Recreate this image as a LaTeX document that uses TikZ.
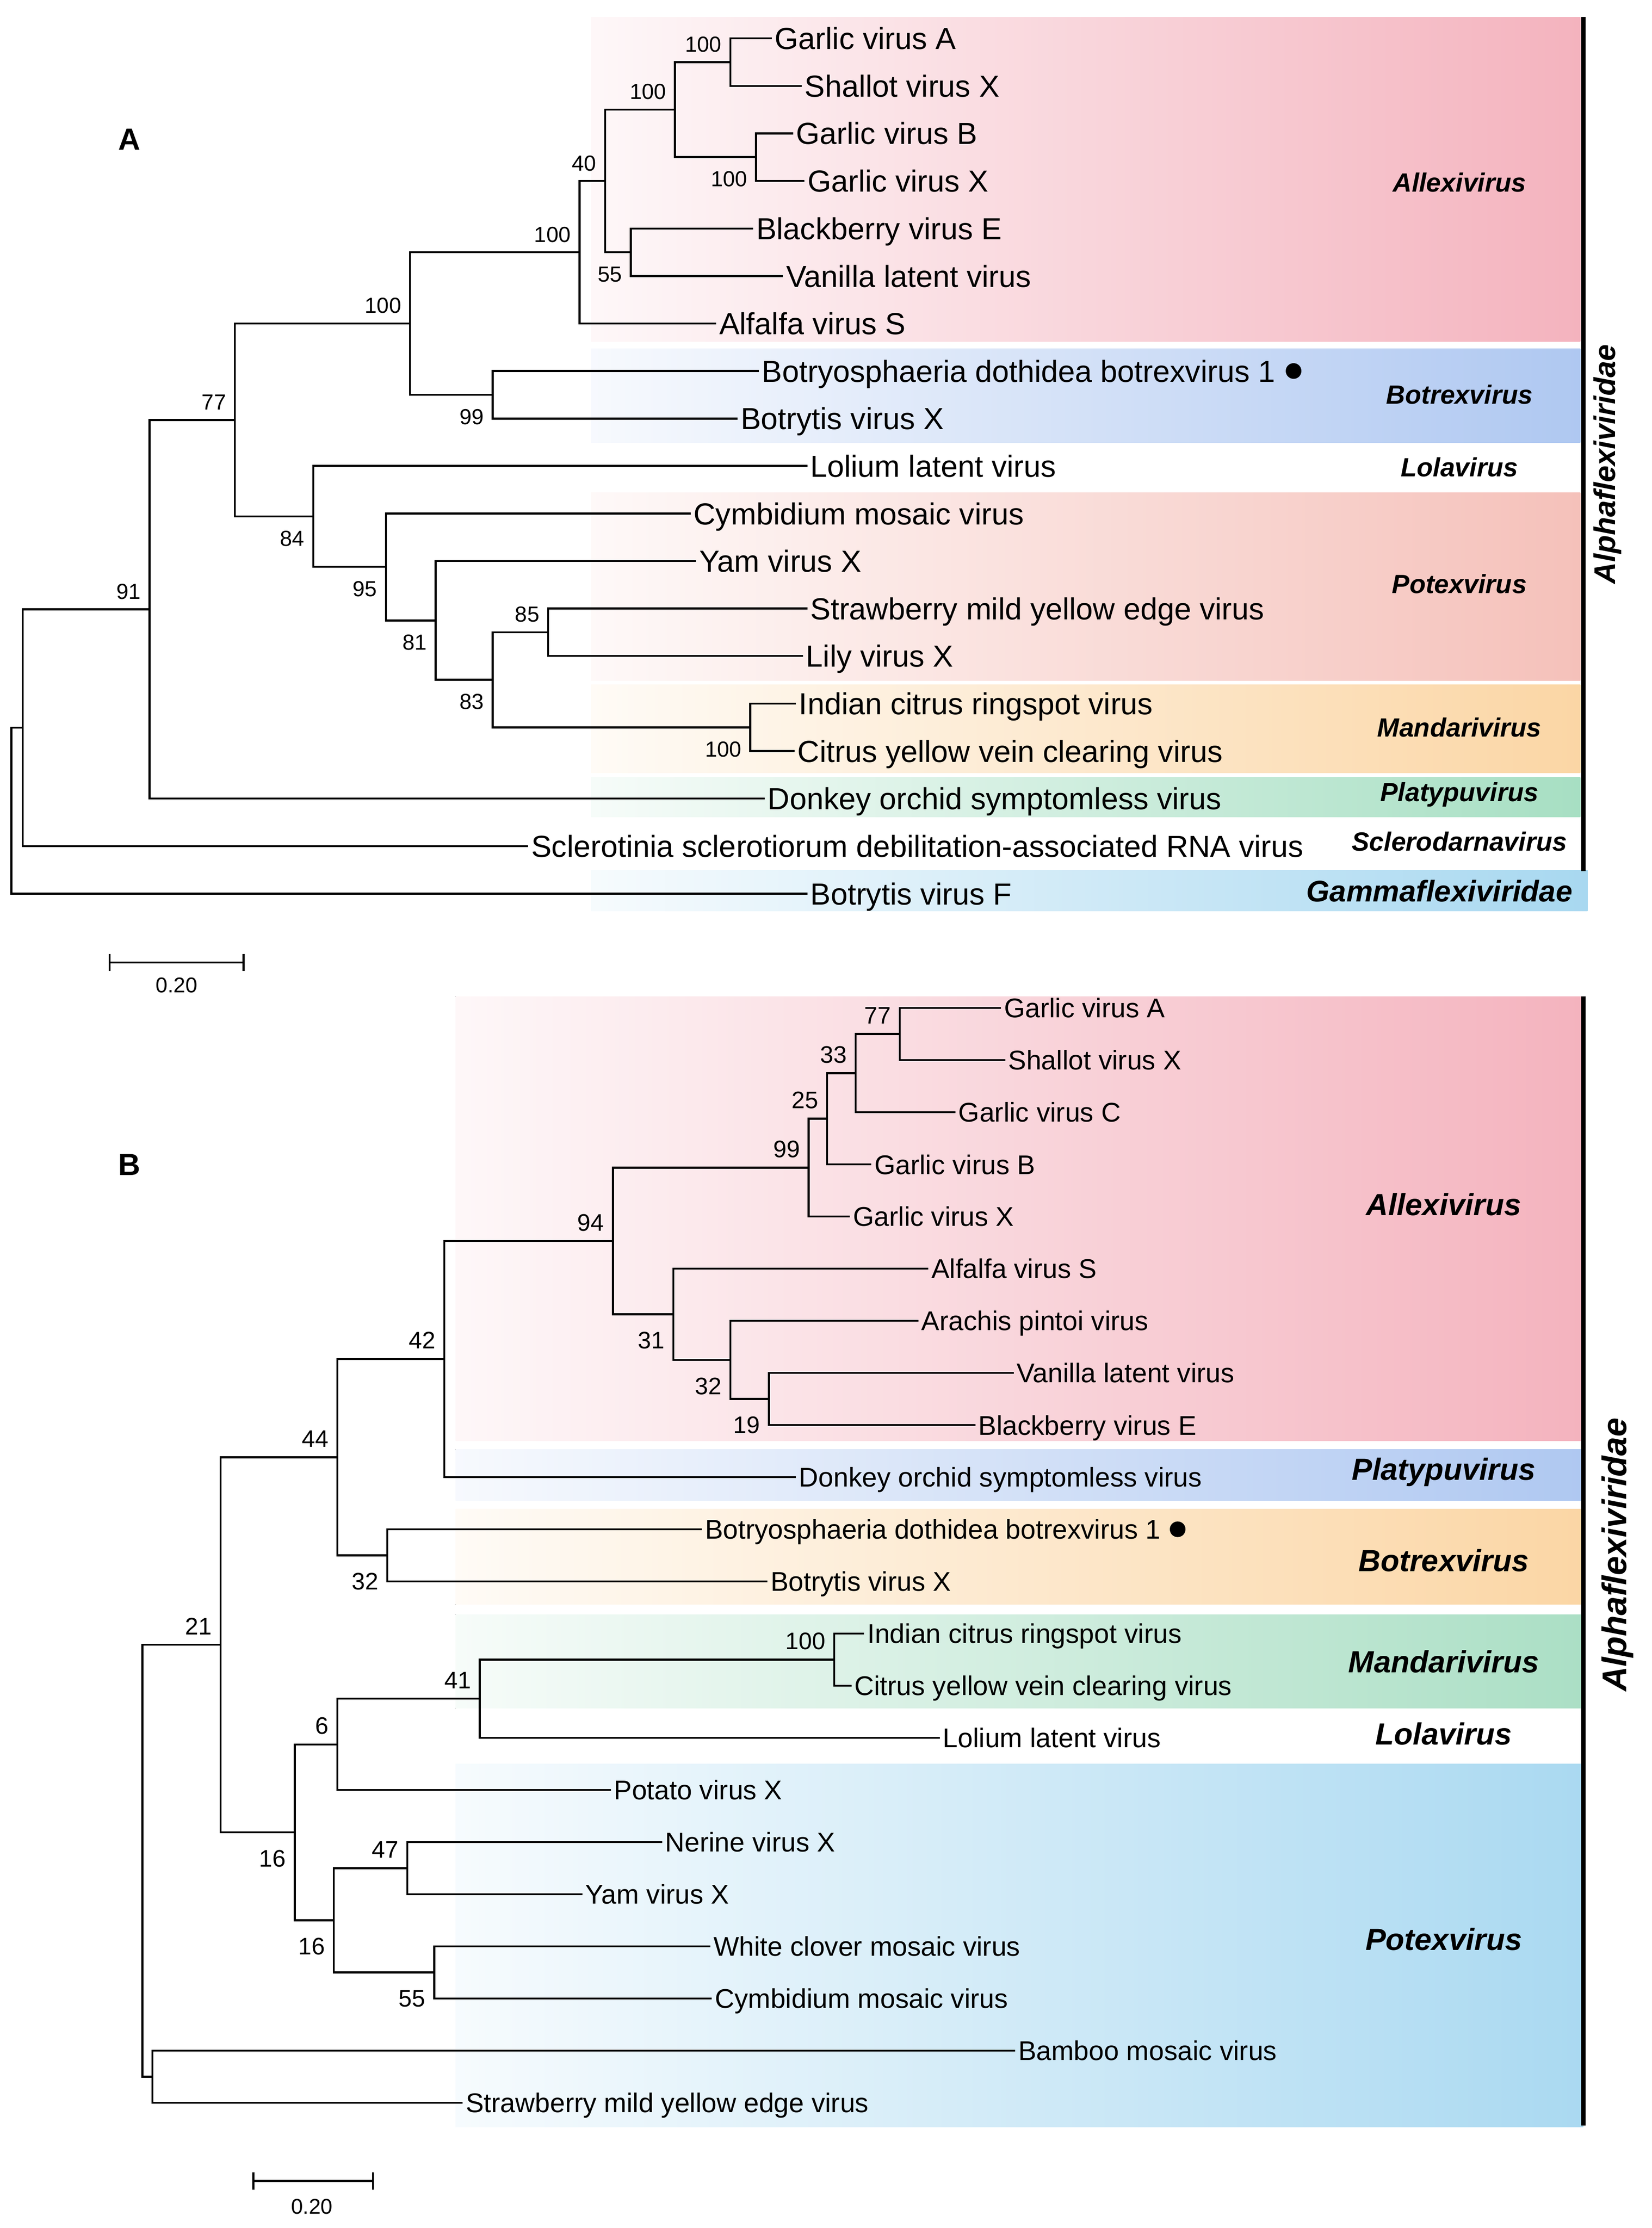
\documentclass[tikz,border=0pt]{standalone}
\usepackage{fontspec}
\setmainfont{Liberation Sans}
\usetikzlibrary{positioning}
\definecolor{allexpink}{HTML}{F4B3BE}
\definecolor{botrexblue}{HTML}{AFC8F1}
\definecolor{potexsalmon}{HTML}{F5C1BA}
\definecolor{mandorange}{HTML}{FBD6A5}
\definecolor{platygreen}{HTML}{A7DFC3}
\definecolor{gammasky}{HTML}{A8D8F0}
\definecolor{mandgreen}{HTML}{ABDFC5}
\definecolor{potexsky}{HTML}{AAD9F1}

\begin{document}
\begin{tikzpicture}[x=1pt,y=-1pt,
    branch/.style={line width=1.4pt},
    famline/.style={line width=3pt},
    leafA/.style={anchor=west,inner xsep=2pt,inner ysep=0pt,text height=15.4pt,text depth=0pt,font=\fontsize{21.4}{24}\selectfont},
    leafB/.style={anchor=west,inner xsep=2pt,inner ysep=0pt,text height=13.7pt,text depth=0pt,font=\fontsize{19}{22}\selectfont},
    bsupA/.style={anchor=south east,inner sep=0pt,xshift=-6pt,yshift=7pt,text height=11pt,text depth=0pt,font=\fontsize{15.3}{17}\selectfont},
    bsdnA/.style={anchor=north east,inner sep=0pt,xshift=-6pt,yshift=-9.5pt,text height=11pt,text depth=0pt,font=\fontsize{15.3}{17}\selectfont},
    bsupB/.style={anchor=south east,inner sep=0pt,xshift=-6pt,yshift=7pt,text height=12pt,text depth=0pt,font=\fontsize{16.8}{18}\selectfont},
    bsdnB/.style={anchor=north east,inner sep=0pt,xshift=-6pt,yshift=-12pt,text height=12pt,text depth=0pt,font=\fontsize{16.8}{18}\selectfont},
    genusA/.style={font=\fontsize{18.5}{20}\selectfont\bfseries\itshape},
    genusB/.style={font=\fontsize{21.5}{24}\selectfont\bfseries\itshape},
    panel/.style={font=\fontsize{21.5}{24}\selectfont\bfseries},
    scalelab/.style={font=\fontsize{15}{17}\selectfont},
    dotmark/.style={circle,fill=black,inner sep=0pt,minimum size=11pt}]
\useasboundingbox (0,0) rectangle (1160,1565);

% ---------------- panel A ----------------
\fill[left color=allexpink!10,right color=allexpink] (415,12) rectangle (1110,240);
\fill[left color=botrexblue!10,right color=botrexblue] (415,245) rectangle (1110,311);
\fill[left color=potexsalmon!10,right color=potexsalmon] (415,346) rectangle (1110,478);
\fill[left color=mandorange!10,right color=mandorange] (415,481) rectangle (1110,543);
\fill[left color=platygreen!10,right color=platygreen] (415,546) rectangle (1110,574);
\fill[left color=gammasky!10,right color=gammasky] (415,611) rectangle (1115,640);

\node[panel] (labA) at (91,98) {A};

\node[leafA] (gvaA) at (542,27) {Garlic virus A};
\node[leafA] (svxA) at (563,60.4) {Shallot virus X};
\node[leafA] (gvbA) at (557,93.7) {Garlic virus B};
\node[leafA] (gvxA) at (565,127.1) {Garlic virus X};
\node[leafA] (bveA) at (529,160.5) {Blackberry virus E};
\node[leafA] (vlvA) at (550,193.9) {Vanilla latent virus};
\node[leafA] (avsA) at (503,227.2) {Alfalfa virus S};
\node[leafA] (bdbA) at (533,260.6) {Botryosphaeria dothidea botrexvirus 1};
\node[dotmark, right=5pt of bdbA] (dotA) {};
\node[leafA] (bvxA) at (518,294) {Botrytis virus X};
\node[leafA] (llvA) at (567,327.3) {Lolium latent virus};
\node[leafA] (cmvA) at (485,360.7) {Cymbidium mosaic virus};
\node[leafA] (yvxA) at (489,394.1) {Yam virus X};
\node[leafA] (smyevA) at (567,427.4) {Strawberry mild yellow edge virus};
\node[leafA] (lvxA) at (564,460.8) {Lily virus X};
\node[leafA] (icrvA) at (559,494.2) {Indian citrus ringspot virus};
\node[leafA] (cyvcvA) at (558,527.6) {Citrus yellow vein clearing virus};
\node[leafA] (dosvA) at (537,560.9) {Donkey orchid symptomless virus};
\node[leafA] (ssdvA) at (371,594.3) {Sclerotinia sclerotiorum debilitation-associated RNA virus};
\node[leafA] (bvfA) at (567,627.7) {Botrytis virus F};

\coordinate (gvasvxA) at (513,43.7);
\coordinate (gvbgvxA) at (531,110.4);
\coordinate (garlicA) at (474,77);
\coordinate (bvevlvA) at (443,177.2);
\coordinate (n40A) at (425,127.1);
\coordinate (allexA) at (407,177.2);
\coordinate (botrexA) at (346,277.3);
\coordinate (n100A) at (288,227.2);
\coordinate (smlvA) at (385,444.1);
\coordinate (mandA) at (527,510.9);
\coordinate (n83A) at (346,477.5);
\coordinate (n81A) at (306,435.8);
\coordinate (n95A) at (271,398.2);
\coordinate (n84A) at (220,362.8);
\coordinate (n77A) at (165,295);
\coordinate (n91A) at (105,428);
\coordinate (n16A) at (16,511.1);
\coordinate (rootA) at (8,569.4);

\draw[branch] (gvasvxA) |- (gvaA.west) (gvasvxA) |- (svxA.west);
\draw[branch] (gvbgvxA) |- (gvbA.west) (gvbgvxA) |- (gvxA.west);
\draw[branch] (garlicA) |- (gvasvxA) (garlicA) |- (gvbgvxA);
\draw[branch] (bvevlvA) |- (bveA.west) (bvevlvA) |- (vlvA.west);
\draw[branch] (n40A) |- (garlicA) (n40A) |- (bvevlvA);
\draw[branch] (allexA) |- (n40A) (allexA) |- (avsA.west);
\draw[branch] (botrexA) |- (bdbA.west) (botrexA) |- (bvxA.west);
\draw[branch] (n100A) |- (allexA) (n100A) |- (botrexA);
\draw[branch] (smlvA) |- (smyevA.west) (smlvA) |- (lvxA.west);
\draw[branch] (mandA) |- (icrvA.west) (mandA) |- (cyvcvA.west);
\draw[branch] (n83A) |- (smlvA) (n83A) |- (mandA);
\draw[branch] (n81A) |- (yvxA.west) (n81A) |- (n83A);
\draw[branch] (n95A) |- (cmvA.west) (n95A) |- (n81A);
\draw[branch] (n84A) |- (llvA.west) (n84A) |- (n95A);
\draw[branch] (n77A) |- (n100A) (n77A) |- (n84A);
\draw[branch] (n91A) |- (n77A) (n91A) |- (dosvA.west);
\draw[branch] (n16A) |- (n91A) (n16A) |- (ssdvA.west);
\draw[branch] (rootA) |- (n16A) (rootA) |- (bvfA.west);

\node[bsupA] (bs1A) at (gvasvxA) {100};
\node[bsdnA] (bs2A) at (gvbgvxA) {100};
\node[bsupA] (bs3A) at (garlicA) {100};
\node[bsdnA] (bs4A) at (bvevlvA) {55};
\node[bsupA] (bs5A) at (n40A) {40};
\node[bsupA] (bs6A) at (allexA) {100};
\node[bsdnA] (bs7A) at (botrexA) {99};
\node[bsupA] (bs8A) at (n100A) {100};
\node[bsupA] (bs9A) at (n77A) {77};
\node[bsdnA] (bs10A) at (n84A) {84};
\node[bsdnA] (bs11A) at (n95A) {95};
\node[bsdnA] (bs12A) at (n81A) {81};
\node[bsupA] (bs13A) at (smlvA) {85};
\node[bsdnA] (bs14A) at (n83A) {83};
\node[bsdnA] (bs15A) at (mandA) {100};
\node[bsupA] (bs16A) at (n91A) {91};

\node[genusA] (allexLabA) at (1025,128) {Allexivirus};
\node[genusA] (botrexLabA) at (1025,277) {Botrexvirus};
\node[genusA] (lolaLabA) at (1025,328) {Lolavirus};
\node[genusA] (potexLabA) at (1025,410) {Potexvirus};
\node[genusA] (mandLabA) at (1025,511) {Mandarivirus};
\node[genusA] (platyLabA) at (1025,558) {Platypuvirus};
\node[genusA] (scleroLabA) at (1025,591) {Sclerodarnavirus};
\node[genusA, font=\fontsize{21}{24}\selectfont\bfseries\itshape] (gammaLabA) at (1011,626) {Gammaflexiviridae};

\coordinate (barA1) at (1112,12);
\coordinate (barA2) at (1112,612);
\draw[famline] (barA1) -- (barA2);
\node[genusA, font=\fontsize{21}{24}\selectfont\bfseries\itshape, rotate=90] (famA) at (1129,326) {Alphaflexiviridae};

\coordinate (scA1) at (77,676);
\coordinate (scA2) at (171,676);
\draw[branch] (scA1) -- (scA2);
\draw[branch] ([yshift=6pt]scA1) -- ([yshift=-6pt]scA1);
\draw[branch] ([yshift=6pt]scA2) -- ([yshift=-6pt]scA2);
\node[scalelab] (scLabA) at (124,692) {0.20};

% ---------------- panel B ----------------
\fill[left color=allexpink!10,right color=allexpink] (320,700) rectangle (1112,1012);
\fill[left color=botrexblue!10,right color=botrexblue] (320,1018) rectangle (1112,1054);
\fill[left color=mandorange!10,right color=mandorange] (320,1060) rectangle (1112,1127);
\fill[left color=mandgreen!10,right color=mandgreen] (320,1134) rectangle (1112,1200);
\fill[left color=potexsky!10,right color=potexsky] (320,1239) rectangle (1112,1494);

\node[panel] (labB) at (91,818) {B};

\node[leafB] (gvaB) at (703,708) {Garlic virus A};
\node[leafB] (svxB) at (706,744.6) {Shallot virus X};
\node[leafB] (gvcB) at (671,781.2) {Garlic virus C};
\node[leafB] (gvbB) at (612,817.9) {Garlic virus B};
\node[leafB] (gvxB) at (597,854.5) {Garlic virus X};
\node[leafB] (avsB) at (652,891.1) {Alfalfa virus S};
\node[leafB] (apvB) at (645,927.7) {Arachis pintoi virus};
\node[leafB] (vlvB) at (712,964.3) {Vanilla latent virus};
\node[leafB] (bveB) at (685,1001) {Blackberry virus E};
\node[leafB] (dosvB) at (559,1037.6) {Donkey orchid symptomless virus};
\node[leafB] (bdbB) at (493,1074.2) {Botryosphaeria dothidea botrexvirus 1};
\node[dotmark, right=4pt of bdbB] (dotB) {};
\node[leafB] (bvxB) at (539,1110.8) {Botrytis virus X};
\node[leafB] (icrvB) at (607,1147.4) {Indian citrus ringspot virus};
\node[leafB] (cyvcvB) at (598,1184.1) {Citrus yellow vein clearing virus};
\node[leafB] (llvB) at (660,1220.7) {Lolium latent virus};
\node[leafB] (pvxB) at (429,1257.3) {Potato virus X};
\node[leafB] (nvxB) at (465,1293.9) {Nerine virus X};
\node[leafB] (yvxB) at (409,1330.5) {Yam virus X};
\node[leafB] (wcmvB) at (499,1367.2) {White clover mosaic virus};
\node[leafB] (cmvB) at (500,1403.8) {Cymbidium mosaic virus};
\node[leafB] (bmvB) at (713,1440.4) {Bamboo mosaic virus};
\node[leafB] (smyevB) at (325,1477) {Strawberry mild yellow edge virus};

\coordinate (gvasvxB) at (632,726.3);
\coordinate (n33B) at (601,753.8);
\coordinate (n25B) at (581,785.8);
\coordinate (n99B) at (568,820.2);
\coordinate (vlvbveB) at (540,982.7);
\coordinate (n32B) at (513,955.2);
\coordinate (n31B) at (473,923.2);
\coordinate (allexB) at (430.5,871.7);
\coordinate (n42B) at (312,954.6);
\coordinate (botrexB) at (272,1092.5);
\coordinate (n44B) at (237,1023.6);
\coordinate (mandB) at (586,1165.8);
\coordinate (n41B) at (337,1193.2);
\coordinate (n6B) at (237,1225.3);
\coordinate (nvxyvxB) at (286,1312.2);
\coordinate (wcmvcmvB) at (305,1385.5);
\coordinate (n16bB) at (234.5,1348.9);
\coordinate (n16aB) at (207,1287.1);
\coordinate (n21B) at (155,1155.3);
\coordinate (bambooB) at (107,1458.7);
\coordinate (rootB) at (100,1307);

\draw[branch] (gvasvxB) |- (gvaB.west) (gvasvxB) |- (svxB.west);
\draw[branch] (n33B) |- (gvasvxB) (n33B) |- (gvcB.west);
\draw[branch] (n25B) |- (n33B) (n25B) |- (gvbB.west);
\draw[branch] (n99B) |- (n25B) (n99B) |- (gvxB.west);
\draw[branch] (vlvbveB) |- (vlvB.west) (vlvbveB) |- (bveB.west);
\draw[branch] (n32B) |- (apvB.west) (n32B) |- (vlvbveB);
\draw[branch] (n31B) |- (avsB.west) (n31B) |- (n32B);
\draw[branch] (allexB) |- (n99B) (allexB) |- (n31B);
\draw[branch] (n42B) |- (allexB) (n42B) |- (dosvB.west);
\draw[branch] (botrexB) |- (bdbB.west) (botrexB) |- (bvxB.west);
\draw[branch] (n44B) |- (n42B) (n44B) |- (botrexB);
\draw[branch] (mandB) |- (icrvB.west) (mandB) |- (cyvcvB.west);
\draw[branch] (n41B) |- (mandB) (n41B) |- (llvB.west);
\draw[branch] (n6B) |- (n41B) (n6B) |- (pvxB.west);
\draw[branch] (nvxyvxB) |- (nvxB.west) (nvxyvxB) |- (yvxB.west);
\draw[branch] (wcmvcmvB) |- (wcmvB.west) (wcmvcmvB) |- (cmvB.west);
\draw[branch] (n16bB) |- (nvxyvxB) (n16bB) |- (wcmvcmvB);
\draw[branch] (n16aB) |- (n6B) (n16aB) |- (n16bB);
\draw[branch] (n21B) |- (n44B) (n21B) |- (n16aB);
\draw[branch] (bambooB) |- (bmvB.west) (bambooB) |- (smyevB.west);
\draw[branch] (rootB) |- (n21B) (rootB) |- (bambooB);

\node[bsupB] (bs1B) at (gvasvxB) {77};
\node[bsupB] (bs2B) at (n33B) {33};
\node[bsupB] (bs3B) at (n25B) {25};
\node[bsupB] (bs4B) at (n99B) {99};
\node[bsupB] (bs5B) at (allexB) {94};
\node[bsdnB] (bs6B) at (n31B) {31};
\node[bsdnB] (bs7B) at (n32B) {32};
\node[bsdnB] (bs8B) at (vlvbveB) {19};
\node[bsupB] (bs9B) at (n42B) {42};
\node[bsdnB] (bs10B) at (botrexB) {32};
\node[bsupB] (bs11B) at (n44B) {44};
\node[bsupB] (bs12B) at (mandB) {100};
\node[bsupB] (bs13B) at (n41B) {41};
\node[bsupB] (bs14B) at (n6B) {6};
\node[bsupB] (bs15B) at (nvxyvxB) {47};
\node[bsdnB] (bs16B) at (wcmvcmvB) {55};
\node[bsdnB] (bs17B) at (n16bB) {16};
\node[bsdnB] (bs18B) at (n16aB) {16};
\node[bsupB] (bs19B) at (n21B) {21};

\node[genusB] (allexLabB) at (1014,846) {Allexivirus};
\node[genusB] (platyLabB) at (1014,1034) {Platypuvirus};
\node[genusB] (botrexLabB) at (1014,1096) {Botrexvirus};
\node[genusB] (mandLabB) at (1014,1167) {Mandarivirus};
\node[genusB] (lolaLabB) at (1014,1218) {Lolavirus};
\node[genusB] (potexLabB) at (1014,1362) {Potexvirus};

\coordinate (barB1) at (1112,700);
\coordinate (barB2) at (1112,1493);
\draw[famline] (barB1) -- (barB2);
\node[genusB, font=\fontsize{24}{26}\selectfont\bfseries\itshape, rotate=90] (famB) at (1136,1092) {Alphaflexiviridae};

\coordinate (scB1) at (178,1532);
\coordinate (scB2) at (262,1532);
\draw[branch] (scB1) -- (scB2);
\draw[branch] ([yshift=6pt]scB1) -- ([yshift=-6pt]scB1);
\draw[branch] ([yshift=6pt]scB2) -- ([yshift=-6pt]scB2);
\node[scalelab] (scLabB) at (219,1550) {0.20};
\end{tikzpicture}
\end{document}
